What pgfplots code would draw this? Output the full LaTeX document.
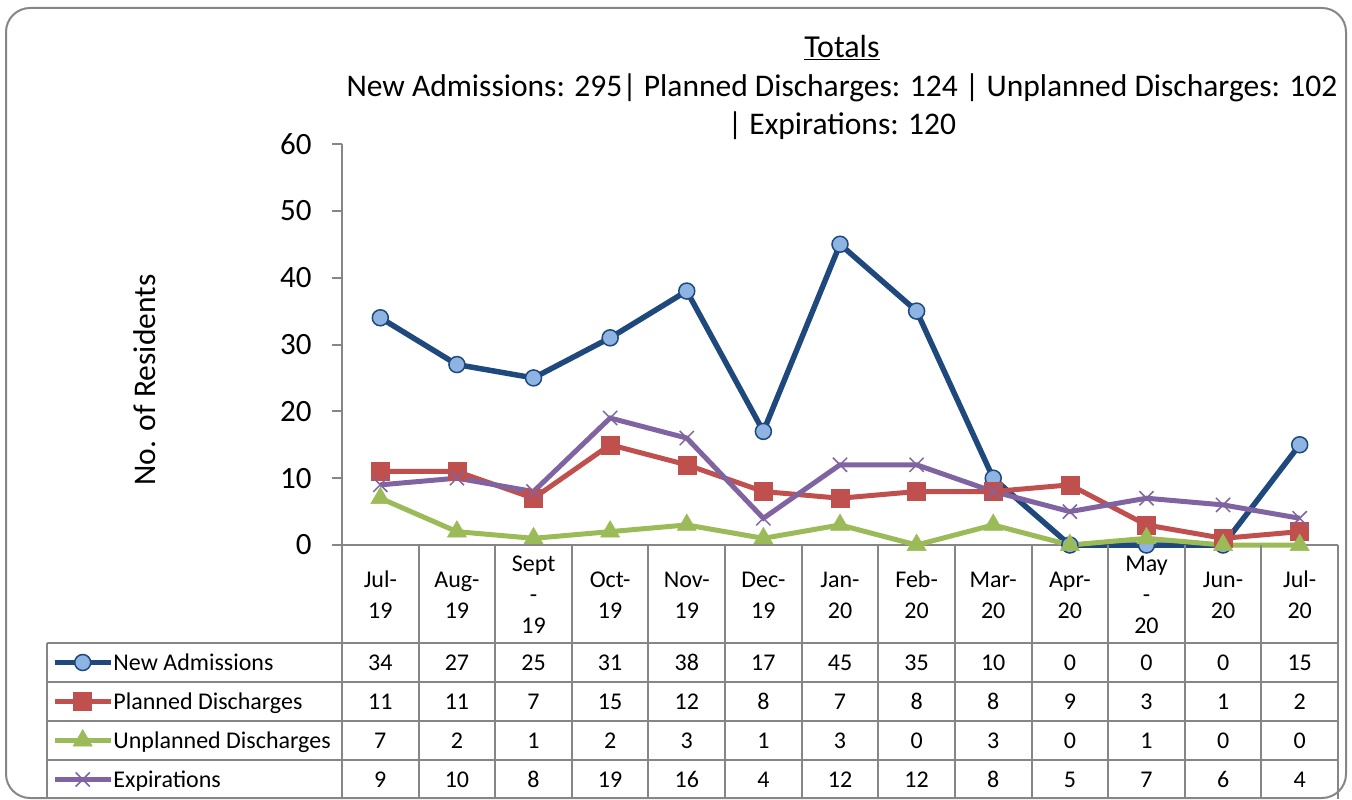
\documentclass[border=0pt]{standalone}
\usepackage{pgfplots}
\usepackage{pgfplotstable}
\pgfplotsset{compat=1.18}
\usepackage{fontspec}
\setmainfont{Carlito}
\definecolor{cblue}{HTML}{1F497D}
\definecolor{cbluefill}{HTML}{8DB4E2}
\definecolor{cred}{HTML}{C0504D}
\definecolor{cgreen}{HTML}{9BBB59}
\definecolor{cpurple}{HTML}{8064A2}
\definecolor{axgray}{HTML}{868686}

\pgfplotstableread{
x na pd ud ex
0 34 11 7 9
1 27 11 2 10
2 25 7 1 8
3 31 15 2 19
4 38 12 3 16
5 17 8 1 4
6 45 7 3 12
7 35 8 0 12
8 10 8 3 8
9 0 9 0 5
10 0 3 1 7
11 0 1 0 6
12 15 2 0 4
}\datatable

\begin{document}
\begin{tikzpicture}
\begin{scope}[x=1pt,y=-1pt]
\useasboundingbox (0,0) rectangle (1352,799);
\draw[axgray, line width=2pt, rounded corners=24pt] (6,8) rectangle (1346,798);

% titles
\node[font=\fontsize{32}{38}\selectfont] at (842,48) {\underline{Totals}};
\node[font=\fontsize{31.5}{38}\selectfont] at (842,88) {New Admissions: 295| Planned Discharges: 124 | Unplanned Discharges: 102};
\node[font=\fontsize{31.5}{38}\selectfont] at (842,126) {| Expirations: 120};
\node[rotate=90, font=\fontsize{31.5}{38}\selectfont] at (145,380) {No. of Residents};
\end{scope}

\begin{axis}[
  at={(342pt,-545pt)}, anchor=south west,
  scale only axis, width=996pt, height=401pt,
  xmin=-0.5, xmax=12.5, ymin=0, ymax=60,
  ytick={0,10,...,60}, xtick=\empty,
  axis x line=bottom, axis y line=left,
  axis line style={-, draw=axgray, line width=2pt},
  tick align=outside, major tick length=10pt,
  tick style={axgray, line width=2pt},
  /pgf/number format/assume math mode=true,
  tick label style={font=\fontsize{31}{37}\selectfont},
  yticklabel style={xshift=-17pt},
  clip=false,
  legend style={at={(axis description cs:-0.2912,-0.2444)}, anchor=north west,
    draw=none, fill=none, inner sep=0pt, outer sep=0pt,
    font=\fontsize{24}{28}\selectfont, row sep=0pt,
    nodes={inner sep=0pt, text height=27pt, text depth=12pt}},
  legend cell align=left,
  legend image code/.code={\draw[#1, mark repeat=2, mark phase=2] plot coordinates {(0pt,0pt) (28pt,0pt) (56pt,0pt)};},
]
\addplot[cblue, line width=5.5pt, mark=*, mark size=8pt, mark options={fill=cbluefill, draw=cblue, line width=1.5pt}] table[x=x, y=na] {\datatable};
\addlegendentry{New Admissions}
\addplot[cred, line width=5pt, mark=square*, mark size=9pt, mark options={fill=cred, draw=cred, line width=0.5pt}] table[x=x, y=pd] {\datatable};
\addlegendentry{Planned Discharges}
\addplot[cgreen, line width=5pt, mark=triangle*, mark size=11pt, mark options={fill=cgreen, draw=cgreen, line width=0.5pt}] table[x=x, y=ud] {\datatable};
\addlegendentry{Unplanned Discharges}
\addplot[cpurple, line width=5pt, mark=x, mark size=10pt, mark options={draw=cpurple, line width=1.5pt}] table[x=x, y=ex] {\datatable};
\addlegendentry{Expirations}
\end{axis}

\begin{scope}[x=1pt,y=-1pt]
% data table grid
\begin{scope}[axgray, line width=2pt]
  \foreach \i in {0,...,13} {
    \draw ({342+76.615*\i},545) -- ({342+76.615*\i},799);
  }
  \foreach \yy in {643,682,721,760} {
    \draw (47,\yy) -- (1338,\yy);
  }
  \draw (47,643) -- (47,799);
\end{scope}

% header labels
\foreach \lab [count=\c from 0] in {{Jul-\\19},{Aug-\\19},{Sept\\-\\19},{Oct-\\19},{Nov-\\19},{Dec-\\19},{Jan-\\20},{Feb-\\20},{Mar-\\20},{Apr-\\20},{May\\-\\20},{Jun-\\20},{Jul-\\20}} {
  \node[align=center, font=\fontsize{24}{31}\selectfont] at ({342+76.615*(\c+0.5)},595) {\lab};
}

% cell values
\foreach \i in {0,...,12} {
  \foreach \col/\row in {na/0,pd/1,ud/2,ex/3} {
    \pgfplotstablegetelem{\i}{\col}\of\datatable
    \node[font=\fontsize{24}{28}\selectfont, text height=16pt, text depth=0pt] at ({342+76.615*(\i+0.5)},{662.5+39*\row}) {\pgfplotsretval};
  }
}
\end{scope}
\end{tikzpicture}
\end{document}
